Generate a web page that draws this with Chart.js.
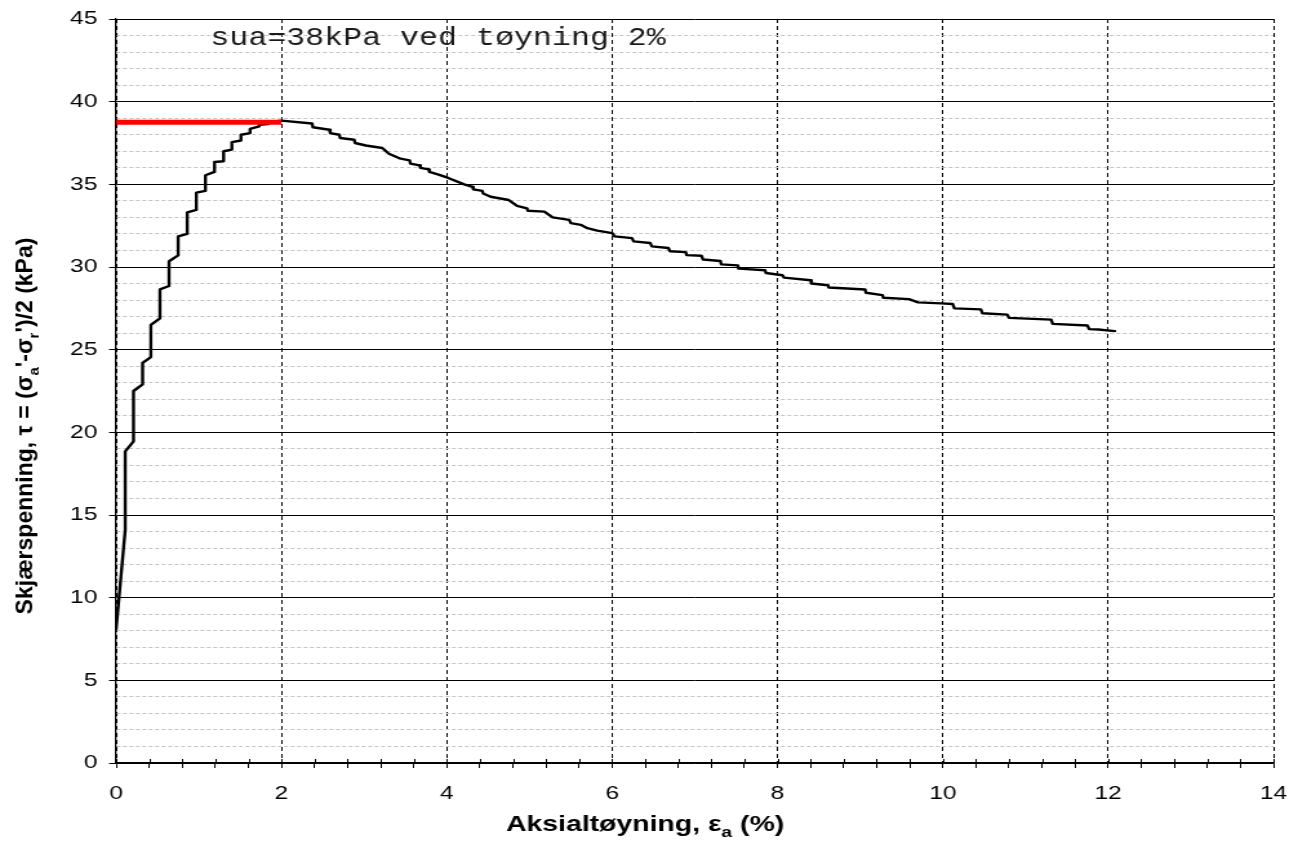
<!DOCTYPE html>
<html>
<head>
<meta charset="utf-8">
<title>Skjærspenning mot aksialtøyning</title>
<script src="https://cdn.jsdelivr.net/npm/chart.js@4.4.1/dist/chart.umd.min.js"></script>
<style>
  html, body { margin: 0; padding: 0; background: #fff; }
  #wrap { width: 1298px; height: 850px; }
</style>
</head>
<body>
<!-- the chart is drawn on a narrower canvas and shown widened, as in the printed report -->
<div id="wrap"><canvas id="chart" width="1006" height="850" style="width:1298px;height:850px;display:block;"></canvas></div>
<script>
// axial strain (%) and shear stress tau (kPa), one entry per logged reading
const strain = [
  0, 0.11, 0.11, 0.21, 0.21, 0.32, 0.32, 0.42, 0.42, 0.53, 0.53, 0.64, 0.64,
  0.75, 0.75, 0.86, 0.86, 0.97, 0.97, 1.08, 1.08, 1.19, 1.19, 1.30, 1.30,
  1.40, 1.40, 1.51, 1.51, 1.62, 1.62, 1.73, 1.73, 1.83, 1.84, 2.00,
  2.37, 2.38, 2.58, 2.59, 2.70, 2.71, 2.88, 2.89, 3.02, 3.22, 3.30, 3.44,
  3.55, 3.56, 3.67, 3.68, 3.78, 3.79, 3.89, 4.01, 4.21, 4.31, 4.32, 4.43,
  4.44, 4.53, 4.75, 4.85, 4.97, 4.98, 5.18, 5.28, 5.48, 5.50, 5.62, 5.70,
  5.82, 6.00, 6.03, 6.24, 6.26, 6.46, 6.48, 6.68, 6.70, 6.89, 6.90, 7.08,
  7.10, 7.31, 7.32, 7.52, 7.53, 7.85, 7.86, 8.06, 8.08, 8.40, 8.41, 8.61,
  8.62, 9.06, 9.07, 9.27, 9.28, 9.59, 9.70, 9.98, 10.12, 10.14, 10.46,
  10.48, 10.78, 10.80, 11.31, 11.33, 11.75, 11.77, 11.88, 12.08
];
const shear = [
  8.1, 14.1, 18.85, 19.45, 22.5, 22.9, 24.2, 24.55, 26.5, 26.9, 28.65, 28.85, 30.35,
  30.7, 31.85, 32.0, 33.3, 33.45, 34.5, 34.6, 35.55, 35.75, 36.35, 36.4, 37.0,
  37.1, 37.55, 37.65, 38.0, 38.1, 38.35, 38.5, 38.6, 38.65, 38.78, 38.85,
  38.68, 38.45, 38.3, 38.1, 38.0, 37.8, 37.7, 37.5, 37.35, 37.2, 36.85, 36.55,
  36.45, 36.25, 36.15, 36.0, 35.9, 35.75, 35.6, 35.4, 35.0, 34.85, 34.7, 34.6,
  34.45, 34.25, 34.05, 33.7, 33.55, 33.4, 33.35, 33.0, 32.85, 32.65, 32.55, 32.35,
  32.2, 32.05, 31.85, 31.75, 31.55, 31.45, 31.25, 31.15, 30.95, 30.9, 30.72, 30.68,
  30.45, 30.36, 30.16, 30.1, 29.9, 29.8, 29.64, 29.5, 29.36, 29.2, 29.0, 28.9,
  28.76, 28.64, 28.44, 28.3, 28.14, 28.06, 27.86, 27.8, 27.76, 27.5, 27.44,
  27.2, 27.12, 26.92, 26.82, 26.56, 26.46, 26.24, 26.22, 26.12
];

// undrained shear strength marker, drawn out to the peak strain
const suaStrain = [0, 2.0];
const suaStress = [38.75, 38.75];

// axis ranges and tick spacing
const xRange = [0, 14];
const xMinorStep = 0.4;
const xMajorStep = 2;
const yRange = [0, 45];
const yMinorStep = 1;
const yMajorStep = 5;

const noteText = 'sua=38kPa ved tøyning 2%';
const xTitle = [['Aksialtøyning, ε'], ['a', 'sub'], [' (%)']];
const yTitle = [['Skjærspenning, τ = (σ'], ['a', 'sub'], ["'-σ"], ['r', 'sub'], ["')/2 (kPa)"]];

const toXY = (xs, ys) => xs.map((x, i) => ({ x, y: ys[i] }));
const onStep = (v, step) => Math.abs(v / step - Math.round(v / step)) < 1e-6;

const SANS = "'Liberation Sans', Arial, sans-serif";
// how much the canvas is widened on screen
const WIDEN = 1298 / 1006;

// bold text with small subscripts, centred on the current origin
function drawRich(ctx, parts, size) {
  const main = `bold ${size}px ${SANS}`;
  const sub = `bold ${Math.round(size * 0.66)}px ${SANS}`;
  let total = 0;
  parts.forEach(([t, kind]) => { ctx.font = kind ? sub : main; total += ctx.measureText(t).width; });
  let x = -total / 2;
  parts.forEach(([t, kind]) => {
    ctx.font = kind ? sub : main;
    ctx.fillText(t, x, kind ? size * 0.28 : 0);
    x += ctx.measureText(t).width;
  });
}

const decorations = {
  id: 'decorations',
  afterDraw(chart) {
    const { ctx, chartArea, scales } = chart;
    ctx.save();

    // x ticks also poke a little way into the plot
    ctx.strokeStyle = '#000';
    ctx.lineWidth = 1;
    ctx.beginPath();
    scales.x.ticks.forEach((t) => {
      const px = Math.round(scales.x.getPixelForValue(t.value)) + 0.5;
      ctx.moveTo(px, chartArea.bottom - 4);
      ctx.lineTo(px, chartArea.bottom);
    });
    ctx.stroke();

    ctx.fillStyle = '#000';
    ctx.textAlign = 'left';
    ctx.textBaseline = 'alphabetic';

    // x axis title
    ctx.save();
    ctx.translate(500, 831);
    drawRich(ctx, xTitle, 22);
    ctx.restore();

    // y axis title, rotated; its glyph height runs across the widened direction
    ctx.save();
    ctx.translate(25, 426);
    ctx.rotate(-Math.PI / 2);
    ctx.scale(1, 1 / WIDEN);
    drawRich(ctx, yTitle, 23);
    ctx.restore();

    // sua note in the upper part of the plot
    ctx.save();
    ctx.font = `25px 'Liberation Mono', 'Courier New', monospace`;
    ctx.fillStyle = '#1a1a1a';
    const w = ctx.measureText(noteText).width;
    ctx.translate(scales.x.getPixelForValue(1.14), scales.y.getPixelForValue(43.45));
    ctx.scale(353 / w, 1);
    ctx.fillText(noteText, 0, 0);
    ctx.restore();

    ctx.restore();
  }
};

new Chart(document.getElementById('chart'), {
  type: 'scatter',
  data: {
    datasets: [
      {
        label: 'sua',
        data: toXY(suaStrain, suaStress),
        showLine: true,
        borderColor: '#ff0000',
        borderWidth: 5,
        pointRadius: 0,
        order: 0,
      },
      {
        label: 'tau',
        data: toXY(strain, shear),
        showLine: true,
        borderColor: '#000',
        borderWidth: 2.4,
        borderJoinStyle: 'round',
        borderCapStyle: 'round',
        pointRadius: 0,
        tension: 0,
        order: 1,
      },
    ],
  },
  options: {
    responsive: false,
    animation: false,
    devicePixelRatio: 1,
    events: [],
    layout: { padding: { top: 19, right: 19, left: 0, bottom: 0 } },
    plugins: { legend: { display: false }, tooltip: { enabled: false } },
    scales: {
      x: {
        type: 'linear',
        min: xRange[0],
        max: xRange[1],
        afterFit(s) { s.height = 87; s.paddingLeft = 0; s.paddingRight = 0; },
        ticks: {
          stepSize: xMinorStep,
          autoSkip: false,
          maxRotation: 0,
          padding: 14,
          color: '#000',
          font: { family: SANS, size: 19 },
          callback: (v) => (onStep(v, xMajorStep) ? String(Math.round(v)) : ''),
        },
        grid: {
          color: (c) => (c.tick && onStep(c.tick.value, xMajorStep) ? '#000' : 'rgba(0,0,0,0)'),
          lineWidth: 1,
          tickColor: '#000',
          tickLength: 5,
        },
        border: {
          color: '#000',
          width: 1.5,
          dash: (c) => (c.tick && onStep(c.tick.value, xMajorStep) ? [4, 3] : []),
        },
      },
      y: {
        type: 'linear',
        min: yRange[0],
        max: yRange[1],
        afterFit(s) { s.width = 90; s.paddingTop = 0; s.paddingBottom = 0; },
        ticks: {
          stepSize: yMinorStep,
          autoSkip: false,
          padding: 9,
          color: '#000',
          font: { family: SANS, size: 19 },
          callback: (v) => (onStep(v, yMajorStep) ? String(Math.round(v)) : ''),
        },
        grid: {
          color: (c) => (c.tick && onStep(c.tick.value, yMajorStep) ? '#000' : '#c4c4c4'),
          lineWidth: 1,
          tickColor: (c) => (c.tick && onStep(c.tick.value, yMajorStep) ? '#000' : 'rgba(0,0,0,0)'),
          tickLength: 5.5,
        },
        border: {
          color: '#000',
          width: 1.3,
          dash: (c) => (c.tick && !onStep(c.tick.value, yMajorStep) ? [3, 2] : []),
        },
      },
    },
  },
  plugins: [decorations],
});
</script>
</body>
</html>
